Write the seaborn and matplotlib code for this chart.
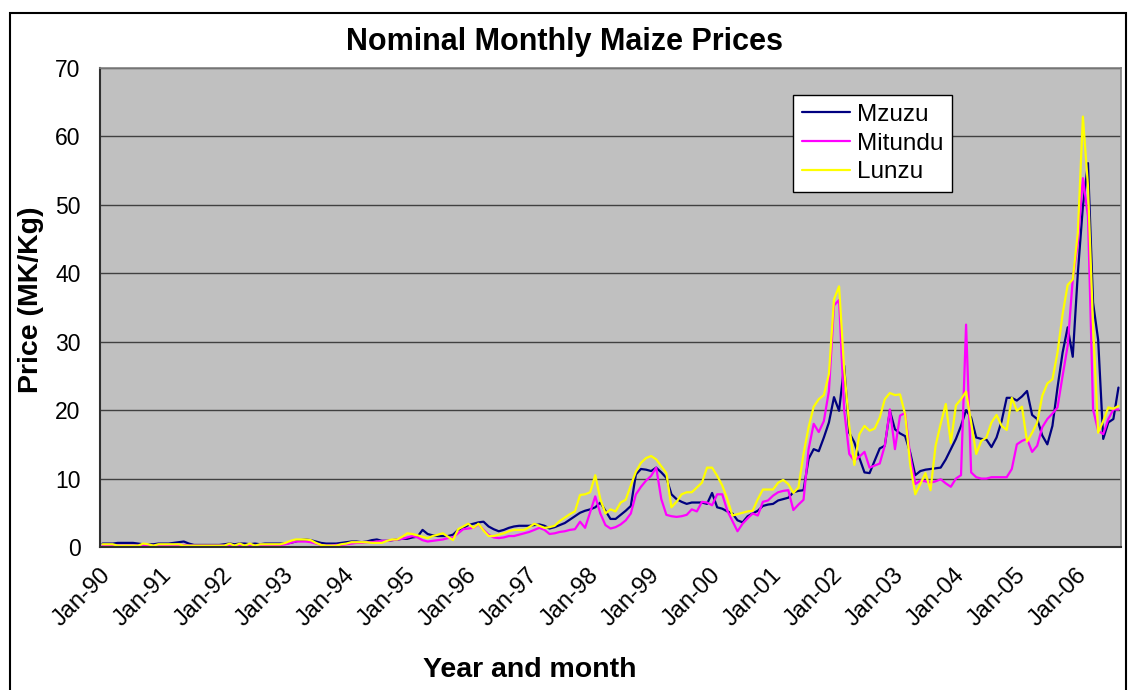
import numpy as np
import pandas as pd
import matplotlib
matplotlib.use("Agg")
import matplotlib.pyplot as plt
import seaborn as sns
from matplotlib.patches import Rectangle

# monthly nominal maize prices (MK/Kg), Jan-1990 .. Sep-2006
years = list(range(1990, 2007))
tick_labels = ["Jan-%02d" % (y % 100) for y in years]
markets = ["Mzuzu", "Mitundu", "Lunzu"]
colors = ["#000080", "#FF00FF", "#FFFF00"]

mzuzu = [
    0.5, 0.5, 0.5, 0.6, 0.6, 0.6, 0.6, 0.5, 0.4, 0.4, 0.4, 0.5,
    0.5, 0.5, 0.6, 0.7, 0.8, 0.5, 0.3, 0.3, 0.3, 0.3, 0.3, 0.3,
    0.4, 0.5, 0.4, 0.5, 0.5, 0.4, 0.5, 0.4, 0.5, 0.5, 0.5, 0.5,
    0.5, 0.6, 0.8, 1.0, 1.1, 1.0, 0.8, 0.6, 0.5, 0.5, 0.5, 0.6,
    0.7, 0.8, 0.8, 0.7, 0.8, 1.0, 1.1, 0.9, 0.9, 1.0, 1.1, 1.2,
    1.2, 1.4, 1.5, 2.5, 1.9, 1.7, 1.6, 1.6, 1.6, 1.8, 2.5, 2.8,
    3.2, 3.4, 3.6, 3.7, 3.0, 2.6, 2.3, 2.5, 2.8, 3.0, 3.1, 3.1,
    3.1, 3.2, 3.3, 3.1, 2.7, 2.9, 3.2, 3.5, 4.0, 4.5, 5.0, 5.3,
    5.5, 5.8, 6.5, 5.3, 4.1, 4.1, 4.7, 5.3, 6.0, 10.6, 11.4, 11.3,
    11.1, 11.6, 10.9, 10.1, 7.7, 7.0, 6.6, 6.3, 6.5, 6.5, 6.5, 6.3,
    7.9, 5.8, 5.6, 5.2, 4.9, 3.9, 3.6, 4.5, 4.9, 5.3, 6.0, 6.2,
    6.3, 6.8, 7.0, 7.2, 8.0, 8.2, 8.3, 12.9, 14.3, 14.0, 16.0, 18.2,
    21.9, 19.9, 26.5, 16.7, 15.3, 13.0, 10.9, 10.8, 12.6, 14.4, 14.8, 19.9,
    17.2, 16.6, 16.2, 13.8, 10.5, 11.1, 11.3, 11.4, 11.5, 11.6, 12.8, 14.3,
    15.8, 17.7, 20.0, 18.9, 16.0, 15.8, 15.7, 14.6, 16.0, 18.4, 21.8, 21.8,
    21.4, 22.0, 22.8, 19.3, 18.7, 16.3, 15.0, 17.7, 23.3, 28.4, 32.1, 27.8,
    40.0, 49.8, 56.1, 35.7, 30.3, 15.8, 18.2, 18.7, 23.3,
]

mitundu = [
    0.2, 0.2, 0.2, 0.2, 0.2, 0.2, 0.2, 0.2, 0.3, 0.3, 0.2, 0.2,
    0.2, 0.2, 0.2, 0.3, 0.3, 0.2, 0.2, 0.2, 0.2, 0.2, 0.2, 0.2,
    0.2, 0.3, 0.2, 0.3, 0.2, 0.3, 0.2, 0.3, 0.3, 0.3, 0.3, 0.3,
    0.4, 0.6, 0.8, 0.8, 0.8, 0.7, 0.5, 0.3, 0.2, 0.2, 0.3, 0.3,
    0.4, 0.5, 0.6, 0.6, 0.7, 0.7, 0.8, 0.9, 0.9, 1.0, 1.1, 1.2,
    1.4, 1.6, 1.4, 1.0, 0.8, 0.9, 1.0, 1.1, 1.3, 1.4, 2.0, 2.6,
    2.7, 2.8, 3.3, 2.5, 1.8, 1.4, 1.3, 1.4, 1.6, 1.6, 1.8, 2.0,
    2.2, 2.5, 2.8, 2.5, 1.9, 2.0, 2.2, 2.3, 2.5, 2.6, 3.7, 2.8,
    5.1, 7.4, 4.9, 3.2, 2.7, 2.9, 3.3, 3.9, 4.9, 7.7, 8.8, 9.7,
    10.4, 11.6, 7.0, 4.7, 4.5, 4.4, 4.5, 4.7, 5.5, 5.2, 6.6, 6.5,
    6.1, 7.7, 7.7, 5.3, 3.8, 2.3, 3.4, 4.2, 4.9, 4.6, 6.6, 6.8,
    7.5, 8.0, 8.2, 8.3, 5.4, 6.2, 6.9, 14.3, 18.0, 16.8, 18.4, 22.8,
    35.3, 36.1, 20.0, 13.6, 12.6, 13.2, 13.9, 11.6, 11.9, 12.2, 14.8, 20.1,
    14.3, 19.2, 19.6, 13.3, 9.2, 9.7, 9.6, 9.4, 9.6, 9.9, 9.3, 8.8,
    10.0, 10.5, 32.5, 10.9, 10.2, 10.0, 10.0, 10.2, 10.2, 10.2, 10.2, 11.4,
    15.0, 15.5, 15.8, 13.9, 14.8, 17.5, 18.7, 19.5, 20.4, 25.0, 29.4, 39.1,
    44.4, 53.9, 48.3, 20.1, 17.0, 16.5, 18.7, 20.1, 20.1,
]

lunzu = [
    0.4, 0.4, 0.4, 0.2, 0.2, 0.2, 0.2, 0.2, 0.5, 0.4, 0.2, 0.4,
    0.4, 0.4, 0.4, 0.4, 0.2, 0.2, 0.2, 0.2, 0.2, 0.2, 0.2, 0.2,
    0.2, 0.5, 0.2, 0.5, 0.2, 0.5, 0.2, 0.4, 0.4, 0.4, 0.4, 0.4,
    0.6, 0.9, 1.1, 1.1, 1.1, 1.0, 0.6, 0.3, 0.2, 0.2, 0.2, 0.4,
    0.5, 0.7, 0.7, 0.7, 0.7, 0.6, 0.6, 0.6, 0.9, 1.1, 1.1, 1.5,
    2.0, 1.9, 1.7, 1.5, 1.3, 1.6, 1.8, 2.0, 1.5, 1.0, 2.6, 3.0,
    3.4, 2.8, 3.4, 2.4, 1.6, 1.6, 1.8, 2.0, 2.3, 2.5, 2.5, 2.5,
    2.9, 3.4, 3.1, 2.8, 2.9, 3.1, 3.8, 4.3, 4.8, 5.2, 7.6, 7.7,
    8.0, 10.5, 7.0, 4.9, 5.5, 5.2, 6.5, 6.9, 9.0, 11.0, 12.3, 13.0,
    13.3, 12.8, 11.8, 10.8, 5.8, 6.6, 7.7, 8.0, 8.0, 8.7, 9.4, 11.6,
    11.6, 10.4, 9.0, 7.0, 4.6, 4.8, 5.0, 5.2, 5.3, 7.0, 8.4, 8.4,
    8.4, 9.4, 9.8, 9.2, 7.9, 8.7, 13.6, 17.5, 20.5, 21.6, 22.2, 25.3,
    36.2, 38.1, 26.0, 17.7, 12.0, 16.5, 17.7, 17.0, 17.3, 18.9, 21.6, 22.5,
    22.2, 22.3, 19.4, 12.0, 7.7, 9.2, 10.8, 8.3, 14.8, 18.0, 20.9, 15.2,
    20.7, 21.6, 22.7, 18.2, 13.6, 15.5, 16.0, 18.2, 19.3, 17.7, 17.1, 21.8,
    19.9, 20.5, 15.4, 16.7, 18.2, 22.1, 23.9, 24.5, 28.4, 34.0, 38.3, 39.1,
    45.9, 62.9, 52.7, 32.3, 16.7, 18.4, 20.4, 20.2, 20.6,
]

n = len(mzuzu)
assert len(mitundu) == n and len(lunzu) == n

# Excel category axis: each month sits in the middle of its slot
pos = np.arange(n) + 0.5
df = pd.DataFrame({
    "pos": np.tile(pos, 3),
    "price": mzuzu + mitundu + lunzu,
    "market": np.repeat(markets, n),
})

sns.set_style("white")
plt.rcParams["font.family"] = ["Liberation Sans", "DejaVu Sans"]
plt.rcParams["text.color"] = "black"
plt.rcParams["axes.labelcolor"] = "black"

W, H = 1129, 690
fig = plt.figure(figsize=(W / 100, H / 100), dpi=100)
fig.patch.set_facecolor("white")

# outer chart-area frame
fig.add_artist(Rectangle((10 / W, -0.05), 1116 / W, 1.05 - 13 / H,
                         transform=fig.transFigure, fill=False,
                         ec="black", lw=1.5))

ax = fig.add_axes([100 / W, 1 - 547 / H, 1021 / W, 479 / H])
ax.set_facecolor("#C0C0C0")

sns.lineplot(data=df, x="pos", y="price", hue="market", hue_order=markets,
             palette=dict(zip(markets, colors)), estimator=None, sort=False,
             linewidth=1.6, ax=ax)

ax.set_xlim(0, n)
ax.set_ylim(0, 70)
ax.set_yticks(range(0, 71, 10))
ax.set_xticks([12 * k for k in range(len(years))])
ax.set_xticklabels(tick_labels, rotation=45, ha="right", rotation_mode="anchor")
ax.yaxis.grid(True, color="#404040", lw=1.0)
ax.xaxis.grid(False)
ax.set_axisbelow(True)

ax.tick_params(axis="both", labelcolor="black", direction="out")
ax.tick_params(axis="y", labelsize=16.5, length=6, width=1.2, pad=8, color="#404040")
ax.tick_params(axis="x", labelsize=17, length=7, width=1.2, pad=5, color="#404040")
ax.set_xlabel("")
ax.set_ylabel("")

for side in ["top", "right"]:
    ax.spines[side].set_color("#808080")
    ax.spines[side].set_linewidth(1.2)
for side in ["left", "bottom"]:
    ax.spines[side].set_color("#303030")
    ax.spines[side].set_linewidth(1.5)

leg = ax.legend(loc="upper left", bbox_to_anchor=(0.679, 0.944),
                borderaxespad=0, frameon=True, fancybox=False, framealpha=1,
                edgecolor="black", fontsize=17.5, handlelength=1.95,
                handletextpad=0.3, labelspacing=0.28, borderpad=0.37)
leg.get_frame().set_linewidth(1.0)
for line in leg.get_lines():
    line.set_linewidth(1.6)
for txt in leg.get_texts():
    txt.set_color("black")

fig.text(564 / W, 1 - 42 / H, "Nominal Monthly Maize Prices", color="black",
         ha="center", va="center", fontsize=22, fontweight="bold")
fig.text(31 / W, 1 - 300 / H, "Price (MK/Kg)", rotation=90, color="black",
         ha="center", va="center", fontsize=20.5, fontweight="bold")
fig.text(530 / W, 1 - 670 / H, "Year and month", color="black",
         ha="center", va="center", fontsize=20.5, fontweight="bold")

fig.savefig("out.png", dpi=100, facecolor="white")
